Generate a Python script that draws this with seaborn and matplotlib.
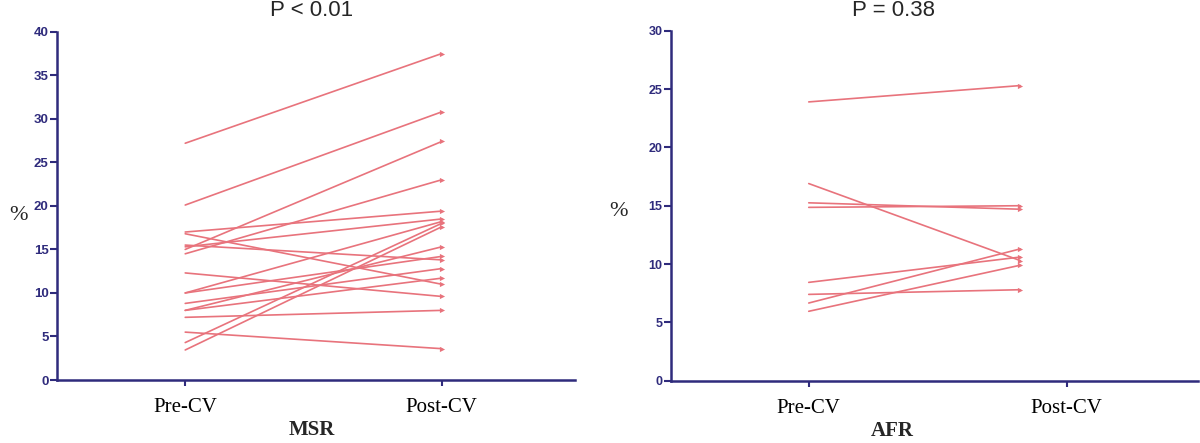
import matplotlib
matplotlib.use("Agg")
import matplotlib.pyplot as plt
import seaborn as sns
import pandas as pd
import numpy as np

# ---- data ----
categories = ["Pre-CV", "Post-CV"]

msr_pre = [27.2, 20.1, 15.0, 14.5, 17.0, 16.8, 15.5, 15.3, 12.3, 10.0,
           10.0, 8.8, 8.0, 8.0, 7.2, 5.5, 4.3, 3.45]
msr_post = [37.5, 30.8, 27.4, 23.0, 19.4, 11.0, 13.8, 18.5, 9.6, 18.2,
            14.2, 12.8, 15.3, 11.7, 8.0, 3.6, 18.0, 17.6]

afr_pre = [23.9, 16.9, 15.25, 14.86, 8.43, 7.4, 6.66, 5.95]
afr_post = [25.3, 10.3, 14.7, 15.0, 10.6, 7.8, 11.3, 9.9]

msr_ticks = [0, 5, 10, 15, 20, 25, 30, 35, 40]
afr_ticks = [0, 5, 10, 15, 20, 25, 30]

# ---- style ----
sns.set_theme(style="white")
plt.rcParams["font.family"] = ["Liberation Sans", "DejaVu Sans"]

NAVY = "#2f2b7c"
LINE = "#e8737c"


def long_form(pre, post, post_x):
    rows = []
    for i, (a, b) in enumerate(zip(pre, post)):
        rows.append({"id": i, "x": 0.0, "value": a, "t": "pre"})
        rows.append({"id": i, "x": post_x, "value": b, "t": "post"})
    return pd.DataFrame(rows)


def panel(ax, pre, post, post_x, ticks, label, xlim, tsize, label_x):
    df = long_form(pre, post, post_x)
    sns.lineplot(data=df, x="x", y="value", units="id", estimator=None,
                 color=LINE, linewidth=1.2, ax=ax, legend=False)
    sns.scatterplot(data=df[df["t"] == "post"], x="x", y="value", marker=">",
                    color=LINE, s=14, linewidth=0, ax=ax, legend=False)
    ax.set_xlim(*xlim)
    ax.set_ylim(ticks[0], ticks[-1])
    ax.set_yticks(ticks)
    ax.set_yticklabels([str(t) for t in ticks], fontsize=tsize,
                       fontweight="bold", color=NAVY)
    ax.set_xticks([0, 1])
    ax.set_xticklabels(categories, fontsize=15, family="Liberation Serif",
                       color="black")
    ax.tick_params(axis="y", direction="out", length=5, width=1.5,
                   color=NAVY, pad=1, left=True)
    ax.tick_params(axis="x", direction="out", length=4, width=1.5,
                   color=NAVY, pad=9, bottom=True)
    for s in ["top", "right"]:
        ax.spines[s].set_visible(False)
    for s in ["left", "bottom"]:
        ax.spines[s].set_color(NAVY)
        ax.spines[s].set_linewidth(1.8)
    ax.set_xlabel(label, fontsize=15, fontweight="bold",
                  family="Liberation Serif", va="center")
    ax.xaxis.set_label_coords(label_x, -0.145)
    ax.set_ylabel("")
    ax.grid(False)


fig = plt.figure(figsize=(12, 4.43), dpi=100)
ax1 = fig.add_axes([0.0475, 0.1422, 0.4317, 0.786])
ax2 = fig.add_axes([0.559, 0.1406, 0.439, 0.790])

panel(ax1, msr_pre, msr_post, 1.0, msr_ticks, "MSR", (-0.5, 1.52), 9.5, 0.492)
panel(ax2, afr_pre, afr_post, 0.82, afr_ticks, "AFR", (-0.535, 1.508), 9, 0.421)

fig.text(312 / 1200, 1 - 11 / 443, "P < 0.01", fontsize=16,
         ha="center", va="center")
fig.text(893 / 1200, 1 - 11 / 443, "P = 0.38", fontsize=16,
         ha="center", va="center")

fig.text(18 / 1200, 1 - 215 / 443, "%", fontsize=16, family="Liberation Serif",
         ha="center", va="center")
fig.text(618 / 1200, 1 - 212 / 443, "%", fontsize=16, family="Liberation Serif",
         ha="center", va="center")

fig.savefig("out.png", dpi=100, facecolor="white")
